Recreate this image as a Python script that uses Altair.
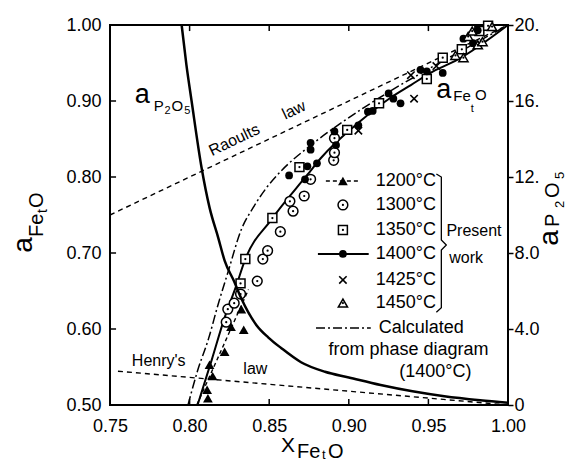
import altair as alt
import pandas as pd

FONT = "Liberation Sans"

# ---------------- data ----------------
x_ticks = [0.75, 0.80, 0.85, 0.90, 0.95, 1.00]
y_ticks = [0.50, 0.60, 0.70, 0.80, 0.90, 1.00]
a_ticks = [0, 4, 8, 12, 16, 20]

t1200_x = [0.8115, 0.811, 0.8145, 0.8125, 0.822, 0.826, 0.834, 0.8325]
t1200_y = [0.509, 0.520, 0.538, 0.553, 0.570, 0.603, 0.599, 0.626]

t1300_x = [0.823, 0.824, 0.828, 0.832, 0.8425, 0.846, 0.849, 0.857, 0.863, 0.865,
           0.872, 0.876, 0.8905, 0.891, 0.891]
t1300_y = [0.609, 0.626, 0.634, 0.646, 0.663, 0.692, 0.703, 0.728, 0.768, 0.755,
           0.775, 0.797, 0.822, 0.832, 0.851]

t1350_x = [0.832, 0.835, 0.852, 0.869, 0.899, 0.919, 0.949, 0.959, 0.971, 0.982, 0.9875]
t1350_y = [0.660, 0.692, 0.746, 0.813, 0.862, 0.897, 0.929, 0.957, 0.968, 0.992, 0.999]

t1400_x = [0.8625, 0.8725, 0.874, 0.880, 0.876, 0.876, 0.891, 0.892, 0.906, 0.912,
           0.915, 0.925, 0.928, 0.9325, 0.945, 0.949, 0.959, 0.972, 0.978, 0.981]
t1400_y = [0.802, 0.797, 0.814, 0.818, 0.836, 0.845, 0.860, 0.842, 0.868, 0.886,
           0.887, 0.910, 0.903, 0.897, 0.941, 0.939, 0.937, 0.982, 0.976, 0.993]

t1425_x = [0.906, 0.939, 0.941, 0.955]
t1425_y = [0.861, 0.934, 0.903, 0.946]

t1450_x = [0.967, 0.972, 0.975, 0.9775, 0.981, 0.984, 0.990]
t1450_y = [0.960, 0.957, 0.985, 0.992, 0.974, 0.978, 0.998]

# 1400 C fitted line
fit_x = [0.805, 0.814, 0.822, 0.829, 0.835, 0.851, 0.874, 0.8825, 0.9075, 0.926,
         0.939, 0.953, 0.968, 1.0]
fit_y = [0.500, 0.560, 0.615, 0.655, 0.692, 0.743, 0.803, 0.825, 0.874, 0.904,
         0.921, 0.939, 0.954, 1.0]

# 1200 C dashed line
l1200_x = [0.8045, 0.837]
l1200_y = [0.500, 0.652]

# calculated from phase diagram (1400 C)
calc_x = [0.799, 0.805, 0.812, 0.818, 0.824, 0.8325, 0.84, 0.848, 0.8575, 0.875,
          0.893, 0.91, 0.926, 0.95, 0.975, 1.0]
calc_y = [0.500, 0.545, 0.588, 0.633, 0.674, 0.731, 0.760, 0.785, 0.808, 0.840,
          0.868, 0.892, 0.913, 0.942, 0.971, 1.0]

# Raoult's law (a = X)
raoult_x = [0.75, 1.0]
raoult_y = [0.75, 1.0]

# a_P2O5 curve (right axis)
p2o5_x = [0.795, 0.798, 0.80125, 0.8075, 0.8125, 0.818, 0.822, 0.828, 0.8325, 0.842,
          0.8495, 0.8575, 0.87, 0.885, 0.90, 0.92, 0.94, 0.96, 0.9825, 1.0]
p2o5_a = [20.0, 17.9, 16.0, 12.5, 10.4, 8.8, 7.6, 6.5, 5.6, 4.2,
          3.55, 3.0, 2.25, 1.75, 1.45, 1.05, 0.72, 0.46, 0.25, 0.12]

# Henry's law (right axis)
henry_x = [0.755, 1.0]
henry_a = [1.78, 0.0]

legend_labels = ["1200°C", "1300°C", "1350°C", "1400°C", "1425°C", "1450°C"]
legend_rows = [0.7947, 0.7632, 0.7303, 0.6987, 0.6645, 0.6342]

# ---------------- scales / encodings ----------------
xs = alt.Scale(domain=[0.75, 1.0], nice=False, zero=False)
ys = alt.Scale(domain=[0.5, 1.0], nice=False, zero=False)
as_ = alt.Scale(domain=[0, 20], nice=False, zero=False)

axis_common = dict(domain=False, grid=False, title=None, labelFont=FONT,
                   labelFontSize=18, labelColor="black", labelFlush=False,
                   labelOverlap=False)
X = alt.X("x:Q", scale=xs, axis=alt.Axis(values=x_ticks, format=".2f", orient="bottom",
                                          ticks=False, labelPadding=12, **axis_common))
Y = alt.Y("y:Q", scale=ys, axis=alt.Axis(values=y_ticks, format=".2f", orient="left",
                                          ticks=False, labelPadding=9, **axis_common))
A = alt.Y("a:Q", scale=as_, axis=alt.Axis(
    values=a_ticks, orient="right", tickSize=5, tickWidth=1.5, tickColor="black",
    labelPadding=1,
    labelExpr="datum.value == 0 ? '0' : (datum.value < 10 ? format(datum.value, '.1f') : datum.value + '.')",
    **axis_common))


def df(xv, yv, col="y"):
    return pd.DataFrame({"x": xv, col: yv})


def line(d, dash=None, width=1.5, yenc=None, interp="linear"):
    kw = dict(color="black", strokeWidth=width, interpolate=interp)
    if dash:
        kw["strokeDash"] = dash
    return alt.Chart(d).mark_line(**kw).encode(x=X, y=yenc if yenc is not None else Y)


def markers(d, kind):
    enc = dict(x=X, y=Y)
    if kind == "1200":
        return [alt.Chart(d).mark_point(shape="triangle-up", filled=True, color="black",
                                        size=95, opacity=1).encode(**enc)]
    if kind in ("1300", "1350", "1450"):
        shape = {"1300": "circle", "1350": "square", "1450": "triangle-up"}[kind]
        size = {"1300": 95, "1350": 80, "1450": 85}[kind]
        return [
            alt.Chart(d).mark_point(shape=shape, fill="white", stroke="black",
                                    strokeWidth=1.5, size=size, opacity=1,
                                    fillOpacity=1).encode(**enc),
            alt.Chart(d).mark_point(shape="circle", filled=True, color="black",
                                    size=5, opacity=1).encode(**enc),
        ]
    if kind == "1400":
        return [alt.Chart(d).mark_point(shape="circle", filled=True, color="black",
                                        size=60, opacity=1).encode(**enc)]
    if kind == "1425":
        return [alt.Chart(d).mark_point(shape="M-1,-1L1,1M-1,1L1,-1", filled=False,
                                        stroke="black", strokeWidth=1.6, size=55,
                                        opacity=1).encode(**enc)]
    return []


def text_layer(items, size=18, align="left", baseline="middle", angle=0):
    d = pd.DataFrame(items, columns=["t", "x", "y"])
    kw = dict(font=FONT, fontSize=size, align=align, baseline=baseline, color="black")
    if angle:
        kw["angle"] = angle
    return alt.Chart(d).mark_text(**kw).encode(x=X, y=Y, text="t:N")


def px_text(t, px, py, size, align="center", baseline="middle", angle=0):
    kw = dict(font=FONT, fontSize=size, align=align, baseline=baseline, color="black")
    if angle:
        kw["angle"] = angle
    return alt.Chart(pd.DataFrame({"t": [t]})).mark_text(**kw).encode(
        x=alt.value(px), y=alt.value(py), text="t:N")


left_layers = []

# inward ticks (bottom, top, left)
inner_x = x_ticks[1:-1]
inner_y = y_ticks[1:-1]
left_layers.append(alt.Chart(pd.DataFrame({"x": inner_x, "y": [0.5] * 4, "y2": [0.508] * 4}))
                   .mark_rule(color="black", strokeWidth=1.5).encode(x=X, y=Y, y2="y2:Q"))
left_layers.append(alt.Chart(pd.DataFrame({"x": inner_x, "y": [1.0] * 4, "y2": [0.992] * 4}))
                   .mark_rule(color="black", strokeWidth=1.5).encode(x=X, y=Y, y2="y2:Q"))
left_layers.append(alt.Chart(pd.DataFrame({"x": [0.75] * 4, "x2": [0.7538] * 4, "y": inner_y}))
                   .mark_rule(color="black", strokeWidth=1.5).encode(x=X, x2="x2:Q", y=Y))

# lines
left_layers.append(line(df(raoult_x, raoult_y), dash=[5, 4], width=1.4))
left_layers.append(line(df(calc_x, calc_y), dash=[9, 3, 2, 3], width=1.5, interp="monotone"))
left_layers.append(line(df(l1200_x, l1200_y), dash=[4, 3], width=1.4))
left_layers.append(line(df(fit_x, fit_y), width=2.0, interp="monotone"))

# data markers
left_layers += markers(df(t1300_x, t1300_y), "1300")
left_layers += markers(df(t1350_x, t1350_y), "1350")
left_layers += markers(df(t1400_x, t1400_y), "1400")
left_layers += markers(df(t1425_x, t1425_y), "1425")
left_layers += markers(df(t1450_x, t1450_y), "1450")
left_layers += markers(df(t1200_x, t1200_y), "1200")

# legend
sym_x = 0.8963
left_layers.append(line(df([0.8856, 0.9075], [legend_rows[0]] * 2), dash=[4, 3], width=1.4))
left_layers.append(line(df([0.8806, 0.9125], [legend_rows[3]] * 2), width=2.0))
left_layers.append(line(df([0.8794, 0.9138], [0.6013] * 2), dash=[9, 3, 2, 3], width=1.5))
for kind, yy in zip(["1200", "1300", "1350", "1400", "1425", "1450"], legend_rows):
    left_layers += markers(df([sym_x], [yy]), kind)
left_layers.append(text_layer([[lab, 0.9169, yy] for lab, yy in zip(legend_labels, legend_rows)]
                              + [["Calculated", 0.9188, 0.6013]], size=18))
left_layers.append(text_layer([["from phase diagram", 0.9375, 0.5724],
                               ["(1400°C)", 0.9544, 0.5434]], size=18, align="center"))
left_layers.append(text_layer([["Present", 0.9613, 0.729], ["work", 0.9631, 0.6934]], size=16))
# brace
brace_x = [0.955, 0.958125, 0.958125, 0.96125, 0.958125, 0.958125, 0.955]
brace_y = [0.804, 0.800, 0.717, 0.7105, 0.704, 0.628, 0.622]
left_layers.append(alt.Chart(pd.DataFrame({"x": brace_x, "y": brace_y, "o": list(range(7))}))
                   .mark_line(color="black", strokeWidth=1.3)
                   .encode(x=X, y=Y, order="o:Q"))

# in-plot annotations
left_layers.append(text_layer([["Raoults", 0.8281, 0.8487], ["law", 0.8656, 0.888]],
                              size=16, align="center", angle=334.5))
left_layers.append(text_layer([["Henry's", 0.7806, 0.5579], ["law", 0.8413, 0.5474]],
                              size=16, align="center"))
left_layers.append(text_layer([["a", 0.7656, 0.8974]], size=27, baseline="alphabetic"))
left_layers.append(text_layer([["P", 0.7775, 0.8868], ["O", 0.7887, 0.8868]], size=15,
                              baseline="alphabetic"))
left_layers.append(text_layer([["2", 0.7843, 0.8829], ["5", 0.7966, 0.8829]], size=11,
                              baseline="alphabetic"))
left_layers.append(text_layer([["a", 0.955, 0.904]], size=27, baseline="alphabetic"))
left_layers.append(text_layer([["Fe", 0.9656, 0.900], ["O", 0.9792, 0.9013]], size=15,
                              baseline="alphabetic"))
left_layers.append(text_layer([["t", 0.9766, 0.886]], size=11, baseline="alphabetic"))

# axis titles (placed in pixels relative to the plot area)
left_layers += [
    px_text("a", -86, 220, 28, angle=270),
    px_text("Fe", -73, 212, 20, align="left", angle=270),
    px_text("t", -67, 188, 14, align="left", angle=270),
    px_text("O", -73, 183, 20, align="left", angle=270),
    px_text("X", 178, 421, 21),
    px_text("Fe", 187, 427, 20, align="left"),
    px_text("t", 212, 430, 13, align="left"),
    px_text("O", 218, 427, 20, align="left"),
    px_text("a", 440, 213, 28, angle=270),
    px_text("P", 443, 202, 20, align="left", angle=270),
    px_text("2", 450, 183, 13, align="left", angle=270),
    px_text("O", 443, 173, 20, align="left", angle=270),
    px_text("5", 450, 154, 13, align="left", angle=270),
]

right_layers = [
    line(df(p2o5_x, p2o5_a, col="a"), width=2.5, yenc=A, interp="monotone"),
    line(df(henry_x, henry_a, col="a"), dash=[5, 4], width=1.4, yenc=A),
]

left = alt.layer(*left_layers)
right = alt.layer(*right_layers)

chart = (
    alt.layer(left, right)
    .resolve_scale(y="independent")
    .properties(
        width=398,
        height=380,
        autosize=alt.AutoSizeParams(type="none"),
        padding={"left": 102, "top": 17, "right": 60, "bottom": 58},
        background="white",
    )
    .configure_view(stroke="black", strokeWidth=2)
)

chart.save("out.html", embed_options={"renderer": "svg", "actions": False})
